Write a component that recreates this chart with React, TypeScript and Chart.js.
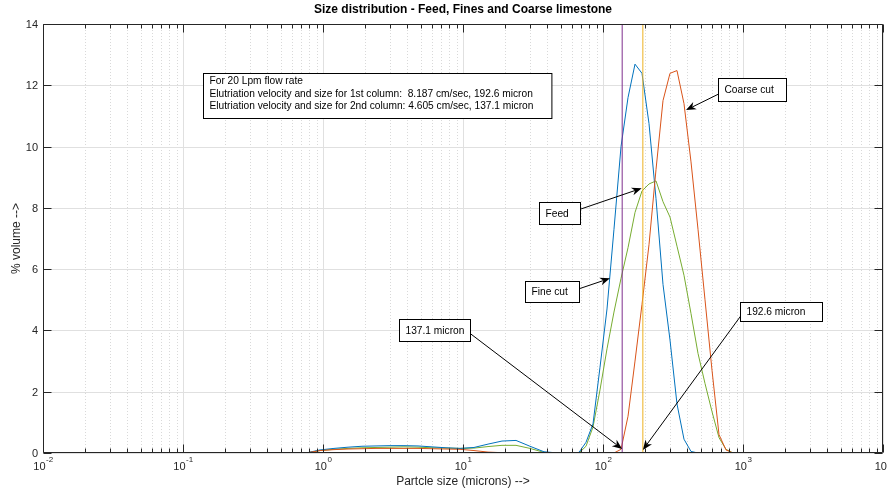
import React, { useEffect, useRef } from 'react';
import { Chart, registerables } from 'chart.js';

Chart.register(...registerables);

const FONT = '"Liberation Sans", Arial, Helvetica, sans-serif';
const AXIS_COLOR = '#262626';

// ---- data (particle size in microns, % volume) ----
const sizesFeed = [0.02, 0.756, 0.952, 1.198, 1.509, 1.899, 2.391, 3.01, 3.789, 4.771, 6.006, 7.561, 9.519, 11.98, 15.09, 18.99, 23.91, 30.1, 37.89, 47.71, 53.53, 60.06, 67.39, 75.61, 84.84, 95.19, 106.8, 119.8, 134.5, 150.9, 169.3, 189.9, 213.1, 239.1, 268.3, 301.0, 337.7, 378.9, 425.2, 477.1, 535.3, 600.6, 673.9, 756.1, 848.4, 2000];
const feedValues = [0, 0, 0.08, 0.12, 0.15, 0.17, 0.18, 0.19, 0.2, 0.19, 0.17, 0.16, 0.15, 0.16, 0.21, 0.25, 0.25, 0.15, 0.02, 0, 0, 0, 0, 0.22, 0.85, 2.06, 3.4, 4.6, 5.7, 6.7, 7.85, 8.55, 8.78, 8.88, 8.2, 7.7, 6.75, 5.8, 4.55, 3.25, 2.27, 1.35, 0.5, 0.12, 0, 0];

const sizesCut = [0.756, 0.952, 1.198, 1.509, 1.899, 2.391, 3.01, 3.789, 4.771, 6.006, 7.561, 9.519, 11.98, 15.09, 18.99, 23.91, 30.1, 37.89, 47.71, 53.53, 60.06, 67.39, 75.61, 84.84, 95.19, 106.8, 119.8, 134.5, 150.9, 169.3, 189.9, 213.1, 239.1, 268.3, 301.0, 337.7, 378.9, 425.2, 477.1, 535.3, 600.6, 673.9, 756.1, 848.4];
const fineValues = [0, 0.1, 0.15, 0.19, 0.22, 0.23, 0.24, 0.24, 0.23, 0.2, 0.17, 0.15, 0.18, 0.29, 0.39, 0.41, 0.22, 0.04, 0, 0, 0, 0.02, 0.35, 0.95, 2.8, 4.7, 7.3, 10.0, 11.6, 12.69, 12.39, 10.75, 8.3, 5.5, 3.69, 1.6, 0.45, 0.05, 0, 0, 0, 0, 0, 0];
const coarseValues = [0, 0.08, 0.11, 0.13, 0.14, 0.15, 0.15, 0.15, 0.15, 0.14, 0.13, 0.12, 0.08, 0.03, 0.01, 0, 0, 0, 0, 0, 0, 0, 0, 0, 0, 0, 0, 0.12, 1.2, 3.0, 4.85, 6.8, 9.25, 11.5, 12.39, 12.48, 11.4, 9.5, 7.3, 5.0, 2.7, 0.6, 0.1, 0];

const cutSizes = [137.1, 192.6]; // 2nd column, 1st column
const cutLineRange = [0, 14];

// ---- axes ----
const xRange = [0.01, 10000];
const yRange = [0, 14];
const xDecadeExponents = [-2, -1, 0, 1, 2, 3, 4];
const xMinorMultipliers = [2, 3, 4, 5, 6, 7, 8, 9];
const yTicks = [0, 2, 4, 6, 8, 10, 12, 14];

const titleText = 'Size distribution - Feed, Fines and Coarse limestone';
const xLabel = 'Partcle size (microns) -->';
const yLabel = '% volume -->';

// ---- annotations (positions in data units: [size, %volume]) ----
const infoLines = [
  'For 20 Lpm flow rate',
  'Elutriation velocity and size for 1st column:  8.187 cm/sec, 192.6 micron',
  'Elutriation velocity and size for 2nd column: 4.605 cm/sec, 137.1 micron',
];
const infoBoxTopLeft = [0.1396, 12.39];
const infoBoxSize = [348.4, 45];

const annoLabels = ['Coarse cut', 'Feed', 'Fine cut', '137.1 micron', '192.6 micron'];
const annoBoxTopLeft = [[662.6, 12.23], [35.1, 8.2], [27.73, 5.61], [3.508, 4.37], [951.9, 4.94]];
const annoBoxSize = [[68, 22.5], [40.7, 21.6], [54.3, 21.3], [70.7, 21.7], [82, 19]];
const annoTail = [[723.3, 11.79], [59.76, 7.86], [56.5, 5.24], [11.4, 3.88], [995, 4.56]];
const annoTip = [[391.6, 11.19], [188.9, 8.64], [112.2, 5.7], [137.1, 0.13], [192.6, 0.1]];

function drawArrow(ctx: CanvasRenderingContext2D, x0: number, y0: number, x1: number, y1: number) {
  const dx = x1 - x0;
  const dy = y1 - y0;
  const len = Math.hypot(dx, dy);
  const ux = dx / len;
  const uy = dy / len;
  const nx = -uy;
  const ny = ux;
  const L = 10;
  const W = 4;
  const N = 7;
  ctx.beginPath();
  ctx.moveTo(x0, y0);
  ctx.lineTo(x1 - ux * N, y1 - uy * N);
  ctx.stroke();
  ctx.beginPath();
  ctx.moveTo(x1, y1);
  ctx.lineTo(x1 - ux * L + nx * W, y1 - uy * L + ny * W);
  ctx.lineTo(x1 - ux * N, y1 - uy * N);
  ctx.lineTo(x1 - ux * L - nx * W, y1 - uy * L - ny * W);
  ctx.closePath();
  ctx.fill();
}

const matlabPlugin = {
  id: 'matlabLook',
  beforeDatasetsDraw(chart: any) {
    const { ctx, chartArea: a, scales } = chart;
    const xs = scales.x;
    const ys = scales.y;
    ctx.save();
    ctx.lineWidth = 1;
    // minor vertical grid (dotted)
    ctx.strokeStyle = '#d9d9d9';
    ctx.setLineDash([1, 2]);
    for (const e of xDecadeExponents) {
      for (const m of xMinorMultipliers) {
        const v = m * Math.pow(10, e);
        if (v >= xRange[1]) continue;
        const px = Math.round(xs.getPixelForValue(v)) + 0.5;
        ctx.beginPath();
        ctx.moveTo(px, a.top);
        ctx.lineTo(px, a.bottom);
        ctx.stroke();
      }
    }
    // major grid
    ctx.setLineDash([]);
    ctx.strokeStyle = '#e0e0e0';
    for (const e of xDecadeExponents) {
      const px = Math.round(xs.getPixelForValue(Math.pow(10, e))) + 0.5;
      ctx.beginPath();
      ctx.moveTo(px, a.top);
      ctx.lineTo(px, a.bottom);
      ctx.stroke();
    }
    for (const t of yTicks) {
      const py = Math.round(ys.getPixelForValue(t)) + 0.5;
      ctx.beginPath();
      ctx.moveTo(a.left, py);
      ctx.lineTo(a.right, py);
      ctx.stroke();
    }
    ctx.restore();
  },
  afterDatasetsDraw(chart: any) {
    const { ctx, chartArea: a, scales } = chart;
    const xs = scales.x;
    const ys = scales.y;
    const L = Math.round(a.left) + 0.5;
    const R = Math.round(a.right) - 0.5;
    const T = Math.round(a.top) + 0.5;
    const B = Math.round(a.bottom) - 0.5;
    ctx.save();
    ctx.strokeStyle = AXIS_COLOR;
    ctx.fillStyle = AXIS_COLOR;
    ctx.lineWidth = 1;
    ctx.setLineDash([]);
    // box
    ctx.beginPath();
    ctx.moveTo(L, T);
    ctx.lineTo(R, T);
    ctx.lineTo(R, B);
    ctx.lineTo(L, B);
    ctx.closePath();
    ctx.stroke();
    // x ticks
    const tick = (px: number, len: number) => {
      ctx.beginPath();
      ctx.moveTo(px, B);
      ctx.lineTo(px, B - len);
      ctx.moveTo(px, T);
      ctx.lineTo(px, T + len);
      ctx.stroke();
    };
    for (const e of xDecadeExponents) {
      tick(Math.round(xs.getPixelForValue(Math.pow(10, e))) + 0.5, 8);
      for (const m of xMinorMultipliers) {
        const v = m * Math.pow(10, e);
        if (v >= xRange[1]) continue;
        tick(Math.round(xs.getPixelForValue(v)) + 0.5, 4);
      }
    }
    // y ticks
    for (const t of yTicks) {
      const py = Math.round(ys.getPixelForValue(t)) + 0.5;
      ctx.beginPath();
      ctx.moveTo(L, py);
      ctx.lineTo(L + 8, py);
      ctx.moveTo(R, py);
      ctx.lineTo(R - 8, py);
      ctx.stroke();
    }
    // y tick labels
    ctx.font = `11px ${FONT}`;
    ctx.textAlign = 'right';
    ctx.textBaseline = 'middle';
    for (const t of yTicks) {
      ctx.fillText(String(t), a.left - 5, ys.getPixelForValue(t) + 1);
    }
    // x tick labels with superscript exponent
    ctx.textAlign = 'left';
    for (const e of xDecadeExponents) {
      const px = xs.getPixelForValue(Math.pow(10, e));
      ctx.font = `11px ${FONT}`;
      const w1 = ctx.measureText('10').width;
      ctx.font = `8px ${FONT}`;
      const exp = String(e);
      const w2 = ctx.measureText(exp).width;
      const start = px - (w1 + w2) / 2;
      ctx.font = `11px ${FONT}`;
      ctx.fillText('10', start, a.bottom + 14);
      ctx.font = `8px ${FONT}`;
      ctx.fillText(exp, start + w1 + 0.5, a.bottom + 7);
    }
    // axis titles
    ctx.font = `12px ${FONT}`;
    ctx.textAlign = 'center';
    ctx.fillText(xLabel, (a.left + a.right) / 2, a.bottom + 29);
    ctx.save();
    ctx.translate(17, (a.top + a.bottom) / 2);
    ctx.rotate(-Math.PI / 2);
    ctx.fillText(yLabel, 0, 0);
    ctx.restore();
    // title
    ctx.fillStyle = '#000';
    ctx.font = `bold 12px ${FONT}`;
    ctx.fillText(titleText, (a.left + a.right) / 2, a.top - 14);

    // annotations
    ctx.strokeStyle = '#000';
    ctx.fillStyle = '#000';
    ctx.font = `10.2px ${FONT}`;
    ctx.textAlign = 'left';
    ctx.textBaseline = 'middle';
    // info text box
    {
      const bx = Math.round(xs.getPixelForValue(infoBoxTopLeft[0])) + 0.5;
      const by = Math.round(ys.getPixelForValue(infoBoxTopLeft[1])) + 0.5;
      ctx.fillStyle = '#fff';
      ctx.fillRect(bx, by, infoBoxSize[0], infoBoxSize[1]);
      ctx.strokeRect(bx, by, infoBoxSize[0], infoBoxSize[1]);
      ctx.fillStyle = '#000';
      infoLines.forEach((line, i) => {
        ctx.fillText(line, bx + 6, by + 8 + i * 12.4);
      });
    }
    annoLabels.forEach((label, i) => {
      const tx = xs.getPixelForValue(annoTail[i][0]);
      const ty = ys.getPixelForValue(annoTail[i][1]);
      const hx = xs.getPixelForValue(annoTip[i][0]);
      const hy = ys.getPixelForValue(annoTip[i][1]);
      ctx.lineWidth = 1;
      drawArrow(ctx, tx, ty, hx, hy);
      const bx = Math.round(xs.getPixelForValue(annoBoxTopLeft[i][0])) + 0.5;
      const by = Math.round(ys.getPixelForValue(annoBoxTopLeft[i][1])) + 0.5;
      const [bw, bh] = annoBoxSize[i];
      ctx.fillStyle = '#fff';
      ctx.fillRect(bx, by, bw, bh);
      ctx.strokeRect(bx, by, Math.round(bw), Math.round(bh));
      ctx.fillStyle = '#000';
      ctx.fillText(label, bx + 6, by + bh / 2 + 0.5);
    });
    ctx.restore();
  },
};

export default function App() {
  const ref = useRef<HTMLCanvasElement>(null);
  useEffect(() => {
    document.body.style.margin = '0';
    const toPts = (xsArr: number[], ysArr: number[]) => xsArr.map((x, i) => ({ x, y: ysArr[i] }));
    const line = (label: string, data: any[], color: string) => ({
      label,
      data,
      borderColor: color,
      backgroundColor: color,
      borderWidth: 1,
      pointRadius: 0,
      showLine: true,
      fill: false,
      tension: 0,
    });
    const chart = new Chart(ref.current as HTMLCanvasElement, {
      type: 'scatter',
      data: {
        datasets: [
          line('2nd column cut', cutSizes.slice(0, 1).flatMap((c) => cutLineRange.map((y) => ({ x: c, y }))), '#7E2F8E'),
          line('1st column cut', cutSizes.slice(1, 2).flatMap((c) => cutLineRange.map((y) => ({ x: c, y }))), '#EDB120'),
          line('Coarse cut', toPts(sizesCut, coarseValues), '#D95319'),
          line('Fine cut', toPts(sizesCut, fineValues), '#0072BD'),
          line('Feed', toPts(sizesFeed, feedValues), '#77AC30'),
        ],
      },
      options: {
        animation: false,
        responsive: false,
        devicePixelRatio: 1,
        events: [],
        layout: { padding: { left: 43, right: 4, top: 24, bottom: 40 } },
        plugins: { legend: { display: false }, title: { display: false }, tooltip: { enabled: false } },
        scales: {
          x: { type: 'logarithmic', min: xRange[0], max: xRange[1], display: false },
          y: { type: 'linear', min: yRange[0], max: yRange[1], display: false },
        },
      },
      plugins: [matlabPlugin],
    } as any);
    return () => chart.destroy();
  }, []);
  return (
    <div style={{ width: 887, height: 493, background: '#fff' }}>
      <canvas ref={ref} width={887} height={493} style={{ display: 'block', width: 887, height: 493 }} />
    </div>
  );
}
